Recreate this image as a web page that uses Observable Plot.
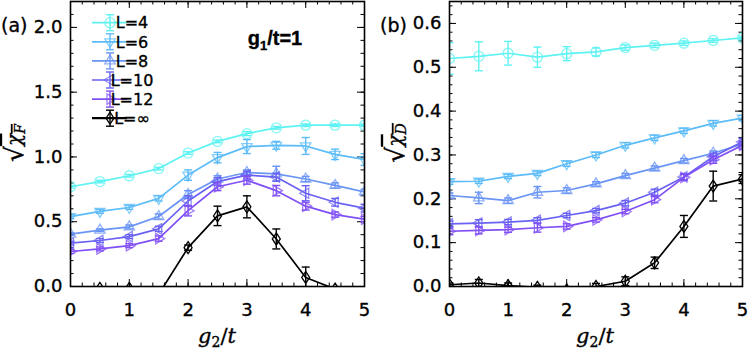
<!DOCTYPE html>
<html><head><meta charset="utf-8">
<script src="https://cdn.jsdelivr.net/npm/d3@7"></script>
<script src="https://cdn.jsdelivr.net/npm/@observablehq/plot@0.6"></script>
<style>
body{margin:0;background:#fff;}
#wrap{position:relative;width:748px;height:353px;overflow:hidden;}
#wrap svg{position:absolute;top:0;}
</style></head><body><div id="wrap"></div>
<script>
const g2 = [0,0.5,1,1.5,2,2.5,3,3.5,4,4.5,5];
const seriesNames = ["L=4","L=6","L=8","L=10","L=12","L=\u221E"];
const colors = ["#5ef2f2","#5cbcf8","#6b95f5","#6a62f2","#8150f5","#000000"];
const markerKinds = ["circle","tri-down","tri-up","tri-left","tri-right","diamond"];
const xTicks = [0,1,2,3,4,5];

// Panel (a): sqrt(chi_F), g1/t = 1
const F_L4   = [0.77,0.81,0.855,0.91,1.03,1.12,1.18,1.225,1.245,1.245,1.245];
const F_L6   = [0.54,0.58,0.61,0.68,0.86,0.995,1.08,1.09,1.085,1.02,0.98];
const F_L8   = [0.405,0.435,0.46,0.54,0.71,0.83,0.88,0.87,0.83,0.78,0.73];
const F_L10  = [0.335,0.355,0.385,0.445,0.66,0.81,0.86,0.845,0.72,0.65,0.605];
const F_L12  = [0.27,0.29,0.315,0.37,0.585,0.77,0.82,0.74,0.62,0.555,0.52];
const F_Linf = [-0.05,-0.015,-0.015,-0.06,0.30,0.545,0.615,0.367,0.07,-0.02,-0.12];
const eF_L4   = [0.01,0.01,0.01,0.01,0.01,0.01,0.015,0.01,0.01,0.01,0.01];
const eF_L6   = [0.015,0.015,0.015,0.02,0.04,0.04,0.054,0.03,0.065,0.04,0.045];
const eF_L8   = [0.01,0.01,0.015,0.02,0.03,0.025,0.02,0.058,0.02,0.02,0.02];
const eF_L10  = [0.015,0.015,0.015,0.02,0.04,0.03,0.03,0.03,0.058,0.03,0.03];
const eF_L12  = [0.015,0.015,0.015,0.02,0.04,0.03,0.03,0.04,0.03,0.02,0.02];
const eF_Linf = [0.01,0.01,0.01,0.01,0.02,0.075,0.085,0.077,0.08,0.01,0.01];
const yTicksA = [0,0.5,1,1.5,2];

// Panel (b): sqrt(chi_D)
const D_L4   = [0.52,0.525,0.532,0.523,0.531,0.535,0.545,0.55,0.555,0.561,0.567];
const D_L6   = [0.239,0.24,0.251,0.258,0.28,0.30,0.322,0.339,0.355,0.372,0.384];
const D_L8   = [0.2075,0.202,0.196,0.215,0.219,0.234,0.253,0.27,0.287,0.304,0.325];
const D_L10  = [0.143,0.1445,0.147,0.151,0.162,0.173,0.19,0.215,0.25,0.296,0.33];
const D_L12  = [0.126,0.128,0.1295,0.134,0.137,0.152,0.171,0.198,0.249,0.289,0.322];
const D_Linf = [0.004,0.008,0.002,-0.002,-0.008,0.0,0.012,0.054,0.137,0.229,0.245];
const eD_L4   = [0.036,0.033,0.027,0.023,0.016,0.009,0.006,0.005,0.005,0.004,0.004];
const eD_L6   = [0.006,0.005,0.005,0.005,0.006,0.006,0.006,0.006,0.006,0.006,0.006];
const eD_L8   = [0.006,0.013,0.006,0.013,0.006,0.005,0.005,0.005,0.005,0.005,0.005];
const eD_L10  = [0.006,0.008,0.006,0.006,0.005,0.005,0.006,0.007,0.007,0.008,0.008];
const eD_L12  = [0.008,0.008,0.006,0.01,0.006,0.005,0.005,0.007,0.007,0.008,0.008];
const eD_Linf = [0.004,0.008,0.006,0.005,0.005,0.007,0.01,0.013,0.025,0.034,0.01];
const yTicksB = [0,0.1,0.2,0.3,0.4,0.5,0.6];

// ---- symbols ----
function triSym(angleDeg, s) {
  return {draw(c) {
    const a = angleDeg * Math.PI / 180;
    const pts = [[0,-s],[ -s*0.866, s*0.5],[ s*0.866, s*0.5]].map(([x,y]) =>
      [x*Math.cos(a) - y*Math.sin(a), x*Math.sin(a) + y*Math.cos(a)]);
    c.moveTo(pts[0][0], pts[0][1]); c.lineTo(pts[1][0], pts[1][1]); c.lineTo(pts[2][0], pts[2][1]); c.closePath();
  }};
}
const symCircle = {draw(c){ c.moveTo(5,0); c.arc(0,0,5,0,2*Math.PI); }};
const symDiamond = {draw(c){ c.moveTo(0,-6); c.lineTo(4,0); c.lineTo(0,6); c.lineTo(-4,0); c.closePath(); }};
const symCap = {draw(c){ c.moveTo(-4,0); c.lineTo(4,0); }};
const symbolFor = {
  "circle": symCircle, "diamond": symDiamond,
  "tri-up": triSym(0, 6), "tri-down": triSym(180, 6), "tri-left": triSym(-90, 6), "tri-right": triSym(90, 6)
};

function rowsOf(vals, errs) {
  const rows = [];
  vals.forEach((v, si) => g2.forEach((x, i) => rows.push({s: si, x, y: v[i], e: errs[si][i]})));
  return rows;
}

const H = 353, MT = 1, MB = 67;
function panel({width, ml, mr, ymax, yTicks, yMinorStep, vals, errs}) {
  const fw = width - ml - mr, fh = H - MT - MB;
  const rows = rowsOf(vals, errs);
  const xMinor = d3.range(0, 5.0001, 0.2).map(d => +d.toFixed(2));
  const yMinor = d3.range(0, ymax + 1e-9, yMinorStep).map(d => +d.toFixed(3));
  const marks = [];
  for (const [list, len] of [[xMinor, 3.5], [xTicks, 7]]) {
    marks.push(Plot.tickX(list, {x: d => d, insetTop: fh - len, stroke: "#000", strokeWidth: 1}));
    marks.push(Plot.tickX(list, {x: d => d, insetBottom: fh - len, stroke: "#000", strokeWidth: 1}));
  }
  for (const [list, len] of [[yMinor, 3.5], [yTicks, 7]]) {
    marks.push(Plot.tickY(list, {y: d => d, insetRight: fw - len, stroke: "#000", strokeWidth: 1}));
    marks.push(Plot.tickY(list, {y: d => d, insetLeft: fw - len, stroke: "#000", strokeWidth: 1}));
  }
  vals.forEach((v, si) => {
    const data = rows.filter(r => r.s === si);
    const col = colors[si];
    marks.push(Plot.line(data, {x: "x", y: "y", stroke: col, strokeWidth: 1.7, clip: true}));
    marks.push(Plot.ruleX(data, {x: "x", y1: d => d.y - d.e, y2: d => d.y + d.e, stroke: col, strokeWidth: 1.4, clip: true}));
    marks.push(Plot.dot(data, {x: "x", y: d => d.y - d.e, symbol: symCap, stroke: col, strokeWidth: 1.4, fill: "none", clip: true}));
    marks.push(Plot.dot(data, {x: "x", y: d => d.y + d.e, symbol: symCap, stroke: col, strokeWidth: 1.4, fill: "none", clip: true}));
    marks.push(Plot.dot(data, {x: "x", y: "y", symbol: symbolFor[markerKinds[si]], stroke: col,
      strokeOpacity: si === 5 ? 1 : 0.75, strokeWidth: 1.3, fill: "none", clip: true}));
  });
  marks.push(Plot.frame({stroke: "#000", strokeWidth: 1.6}));
  marks.push(Plot.axisX(xTicks, {tickSize: 0, tickPadding: 17, fontSize: 18, label: null}));
  marks.push(Plot.axisY(yTicks, {tickSize: 0, tickPadding: 8, fontSize: 18, label: null, tickFormat: d => d.toFixed(1)}));
  return Plot.plot({
    width, height: H, marginLeft: ml, marginRight: mr, marginTop: MT, marginBottom: MB,
    style: {fontFamily: "DejaVu Sans", fontSize: "18px", background: "transparent", color: "#000"},
    x: {domain: [0, 5]}, y: {domain: [0, ymax]},
    marks
  });
}

const wrap = document.getElementById("wrap");
const svgA = panel({width: 374, ml: 70, mr: 10, ymax: 2.2, yTicks: yTicksA, yMinorStep: 0.1,
  vals: [F_L4, F_L6, F_L8, F_L10, F_L12, F_Linf], errs: [eF_L4, eF_L6, eF_L8, eF_L10, eF_L12, eF_Linf]});
const svgB = panel({width: 374, ml: 75, mr: 6, ymax: 0.65, yTicks: yTicksB, yMinorStep: 0.02,
  vals: [D_L4, D_L6, D_L8, D_L10, D_L12, D_Linf], errs: [eD_L4, eD_L6, eD_L8, eD_L10, eD_L12, eD_Linf]});
svgA.style.left = "0px"; svgB.style.left = "374px";
wrap.appendChild(svgA); wrap.appendChild(svgB);

// ---- text annotations ----
function addTexts(svg, {tag, tagX, tagAnchor, yLabelX, sub, xCenter}) {
  const s = d3.select(svg);
  s.append("text").attr("x", tagX).attr("y", 32).attr("text-anchor", tagAnchor)
    .style("font-family", "DejaVu Sans").style("font-size", "19px").attr("fill", "#000").text(tag);
  const yl = s.append("text").attr("transform", `translate(${yLabelX},143) rotate(-90)`)
    .attr("text-anchor", "middle").style("font-family", "DejaVu Serif").style("font-size", "20px").attr("fill", "#000");
  yl.append("tspan").style("font-size", "25px").attr("dy", 2).text("\u221A");
  const inner = yl.append("tspan").attr("dy", -2).style("text-decoration", "overline");
  inner.append("tspan").attr("font-style", "italic").text("\u03C7");
  inner.append("tspan").attr("font-style", "italic").style("font-size", "14px").attr("dy", 4).text(sub);
  const xl = s.append("text").attr("x", xCenter).attr("y", 343).attr("text-anchor", "middle")
    .style("font-family", "DejaVu Serif").style("font-size", "21px").attr("fill", "#000");
  xl.append("tspan").attr("font-style", "italic").text("g");
  xl.append("tspan").style("font-size", "14px").attr("dy", 4).text("2");
  xl.append("tspan").attr("dy", -4).text("/");
  xl.append("tspan").attr("font-style", "italic").text("t");
}
addTexts(svgA, {tag: "(a)", tagX: 1, tagAnchor: "start", yLabelX: 21, sub: "F", xCenter: 217});
addTexts(svgB, {tag: "(b)", tagX: 33, tagAnchor: "end", yLabelX: 28, sub: "D", xCenter: 221});

// g1/t=1 annotation
const ann = d3.select(svgA).append("text").attr("x", 275).attr("y", 45)
  .style("font-family", "Liberation Sans").style("font-weight", "bold").style("font-size", "20px").attr("fill", "#000");
ann.append("tspan").text("g");
ann.append("tspan").style("font-size", "13px").attr("dy", 5).text("1");
ann.append("tspan").attr("dy", -5).text("/t=1");

// legend (panel a)
const leg = d3.select(svgA).append("g");
seriesNames.forEach((name, i) => {
  const y = 22.7 + i * 19.1;
  const col = colors[i];
  leg.append("line").attr("x1", 92).attr("x2", 127).attr("y1", y).attr("y2", y)
    .attr("stroke", col).attr("stroke-width", i === 5 ? 2.2 : 1.7);
  leg.append("line").attr("x1", 110).attr("x2", 110).attr("y1", y - 8).attr("y2", y + 8)
    .attr("stroke", col).attr("stroke-width", 1.4);
  leg.append("line").attr("x1", 106).attr("x2", 114).attr("y1", y - 8).attr("y2", y - 8).attr("stroke", col).attr("stroke-width", 1.4);
  leg.append("line").attr("x1", 106).attr("x2", 114).attr("y1", y + 8).attr("y2", y + 8).attr("stroke", col).attr("stroke-width", 1.4);
  const p = d3.path(); symbolFor[markerKinds[i]].draw(p);
  leg.append("path").attr("d", p.toString()).attr("transform", `translate(110,${y})`)
    .attr("fill", "none").attr("stroke", col).attr("stroke-opacity", i === 5 ? 1 : 0.75).attr("stroke-width", 1.3);
  leg.append("text").attr("x", 132).attr("y", y).attr("dy", "0.36em")
    .style("font-family", "DejaVu Sans").style("font-size", "16px").attr("fill", "#000").text(name);
});

// slightly heavier glyphs, like the reference's rasterised text
for (const svg of [svgA, svgB]) {
  d3.select(svg).selectAll("text").style("stroke", "#000").style("stroke-width", "0.35px");
}
</script></body></html>
